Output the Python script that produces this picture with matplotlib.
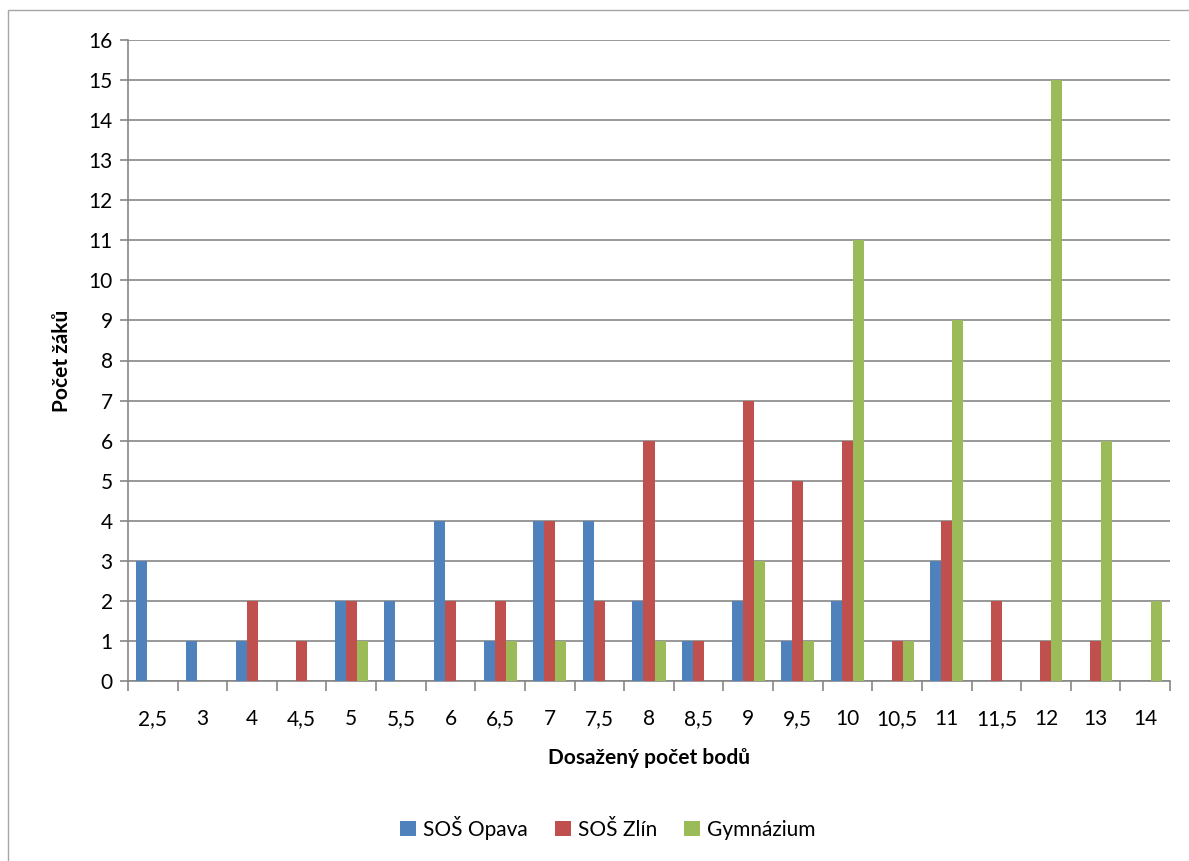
import matplotlib
matplotlib.use("Agg")
import matplotlib.pyplot as plt
import numpy as np
from matplotlib.patches import Rectangle

categories = ["2,5", "3", "4", "4,5", "5", "5,5", "6", "6,5", "7", "7,5", "8",
              "8,5", "9", "9,5", "10", "10,5", "11", "11,5", "12", "13", "14"]
opava = [3, 1, 1, 0, 2, 2, 4, 1, 4, 4, 2, 1, 2, 1, 2, 0, 3, 0, 0, 0, 0]
zlin = [0, 0, 2, 1, 2, 0, 2, 2, 4, 2, 6, 1, 7, 5, 6, 1, 4, 2, 1, 1, 0]
gymnazium = [0, 0, 0, 0, 1, 0, 0, 1, 1, 0, 1, 0, 3, 1, 11, 1, 9, 0, 15, 6, 2]
series_names = ["SOŠ Opava", "SOŠ Zlín", "Gymnázium"]
colors = ["#4f81bd", "#c0504d", "#9bbb59"]

plt.rcParams['font.family'] = ['Lato', 'DejaVu Sans']

fig = plt.figure(figsize=(11.89, 8.61), dpi=100)
ax = fig.add_axes([128/1189, 180/861, 1042/1189, 641/861])

# chart border like in the spreadsheet
fig.patches.append(Rectangle((8/1189, -0.01), 1.05, (861-10)/861 + 0.01,
                             transform=fig.transFigure, fill=False,
                             edgecolor="#a6a6a6", linewidth=1.0))

x = np.arange(len(categories))
w = 1 / 4.5
for i, (vals, name, c) in enumerate(zip([opava, zlin, gymnazium], series_names, colors)):
    ax.bar(x + (i - 1) * w, vals, width=w, color=c, label=name, zorder=3)

ax.set_xlim(-0.5, len(categories) - 0.5)
ax.set_ylim(0, 16)
ax.set_yticks(range(0, 17))
ax.yaxis.grid(True, color="#868686", linewidth=1.2, zorder=0)

ax.set_xticks(x)
ax.set_xticklabels(categories)
ax.set_xticks(np.arange(-0.5, len(categories)), minor=True)
ax.tick_params(axis="x", which="major", length=0, pad=20, labelsize=15)
ax.tick_params(axis="x", which="minor", length=7, color="#868686", width=1.2)
ax.tick_params(axis="y", length=6, color="#868686", width=1.2, labelsize=15, pad=5)

for s in ["top", "right"]:
    ax.spines[s].set_visible(False)
for s in ["left", "bottom"]:
    ax.spines[s].set_color("#868686")
    ax.spines[s].set_linewidth(1.2)

ax.set_xlabel("Dosažený počet bodů", fontsize=15, fontweight="bold", labelpad=14)
ax.set_ylabel("Počet žáků", fontsize=15, fontweight="bold", labelpad=12)

handles, labels = ax.get_legend_handles_labels()
fig.legend(handles, labels, loc="center", bbox_to_anchor=(608/1189, 1 - 828/861),
           ncol=3, frameon=False, fontsize=15, handlelength=0.75, handleheight=0.75,
           columnspacing=1.3, handletextpad=0.35)

fig.savefig("out.png", dpi=100)
